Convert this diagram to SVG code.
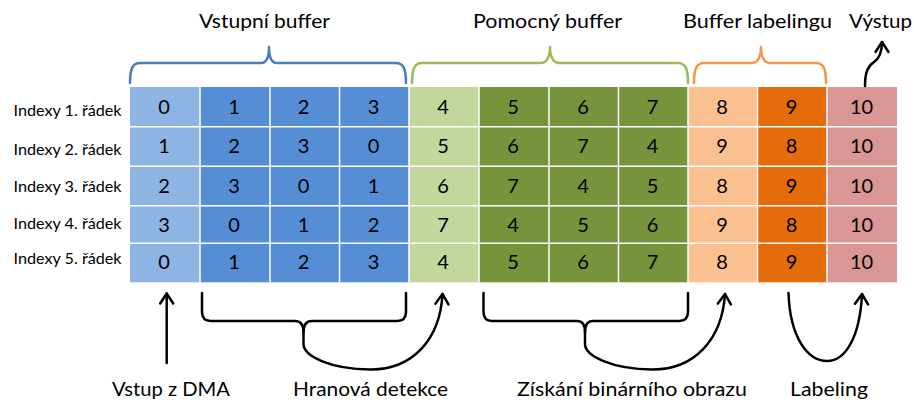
<svg xmlns="http://www.w3.org/2000/svg" width="914" height="403" viewBox="0 0 914 403">
<style>
text{font-family:Lato,"Open Sans","Liberation Sans",sans-serif;fill:#000}
.t{font-size:20px}
.d{font-size:20px;text-anchor:middle}
.r{font-size:16px}
.c{stroke:#fff;stroke-width:1.5}
.lb{fill:#8EB4E3}.mb{fill:#558ED5}.lg{fill:#C3D69B}.dg{fill:#77933C}.lo{fill:#FAC090}.do{fill:#E46C0A}.pk{fill:#D99694}
.br{fill:none;stroke-width:2.5;stroke-linecap:round;stroke-linejoin:round}
.k{fill:none;stroke:#000;stroke-width:2.5;stroke-linecap:round;stroke-linejoin:round}
</style>
<defs>
<marker id="ah" viewBox="-12 -10 14 20" refX="0" refY="0" markerWidth="14" markerHeight="20" markerUnits="userSpaceOnUse" orient="auto">
<path d="M-10,-6.5 L0,0 L-10,6.5" fill="none" stroke="#000" stroke-width="2.5" stroke-linecap="round" stroke-linejoin="round"/>
</marker>
</defs>

<g id="titles">
<text class="t" x="199" y="28" textLength="131" lengthAdjust="spacingAndGlyphs">Vstupní buffer</text>
<text class="t" x="473" y="28" textLength="149" lengthAdjust="spacingAndGlyphs">Pomocný buffer</text>
<text class="t" x="683" y="28" textLength="149" lengthAdjust="spacingAndGlyphs">Buffer labelingu</text>
<text class="t" x="849" y="28" textLength="63" lengthAdjust="spacingAndGlyphs">Výstup</text>
</g>

<g id="braces">
<path class="br" stroke="#4A7EBB" d="M130,83 C130,70 132,63 140,63 L261,63 C266,63 269,58 269,47 C269,58 272,63 277,63 L396,63 C404,63 406,70 406,83"/>
<path class="br" stroke="#9BBB59" d="M412,83 C412,70 414,63 422,63 L541,63 C546,63 550,58 550,47 C550,58 554,63 559,63 L678,63 C686,63 688,70 688,83"/>
<path class="br" stroke="#F79646" d="M694,83 C694,70 696,63 704,63 L752,63 C757,63 761,58 761,47 C761,58 765,63 770,63 L816,63 C824,63 826,70 826,83"/>
</g>

<g id="row-labels" class="r">
<text class="r" x="13.5" y="116" textLength="108" lengthAdjust="spacingAndGlyphs">Indexy 1. řádek</text>
<text class="r" x="13.5" y="155" textLength="108" lengthAdjust="spacingAndGlyphs">Indexy 2. řádek</text>
<text class="r" x="13.5" y="191.5" textLength="108" lengthAdjust="spacingAndGlyphs">Indexy 3. řádek</text>
<text class="r" x="13.5" y="228.5" textLength="108" lengthAdjust="spacingAndGlyphs">Indexy 4. řádek</text>
<text class="r" x="13.5" y="263.5" textLength="108" lengthAdjust="spacingAndGlyphs">Indexy 5. řádek</text>
</g>

<g id="vstupni-buffer">
<rect class="lb" x="130" y="87" width="70" height="195.3"/>
<rect class="mb" x="200" y="87" width="209" height="195.3"/>
</g>
<g id="pomocny-buffer">
<rect class="lg" x="409" y="87" width="70" height="195.3"/>
<rect class="dg" x="479" y="87" width="209" height="195.3"/>
</g>
<g id="buffer-labelingu">
<rect class="lo" x="688" y="87" width="69.5" height="195.3"/>
<rect class="do" x="757.5" y="87" width="69.5" height="195.3"/>
</g>
<g id="vystup">
<rect class="pk" x="827" y="87" width="70" height="195.3"/>
</g>

<g id="grid-lines" class="c">
<line x1="200" y1="87" x2="200" y2="282.3"/>
<line x1="270" y1="87" x2="270" y2="282.3"/>
<line x1="339.5" y1="87" x2="339.5" y2="282.3"/>
<line x1="409" y1="87" x2="409" y2="282.3"/>
<line x1="479" y1="87" x2="479" y2="282.3"/>
<line x1="549" y1="87" x2="549" y2="282.3"/>
<line x1="618.5" y1="87" x2="618.5" y2="282.3"/>
<line x1="688" y1="87" x2="688" y2="282.3"/>
<line x1="757.5" y1="87" x2="757.5" y2="282.3"/>
<line x1="827" y1="87" x2="827" y2="282.3"/>
<line x1="130" y1="126.7" x2="897" y2="126.7"/>
<line x1="130" y1="166.3" x2="897" y2="166.3"/>
<line x1="130" y1="205.7" x2="897" y2="205.7"/>
<line x1="130" y1="243.3" x2="897" y2="243.3"/>
</g>

<g id="cell-values" class="d">
<text class="d" x="164" y="113.5">0</text><text class="d" x="234" y="113.5">1</text><text class="d" x="303.5" y="113.5">2</text><text class="d" x="373.5" y="113.5">3</text><text class="d" x="443" y="113.5">4</text><text class="d" x="513" y="113.5">5</text><text class="d" x="583" y="113.5">6</text><text class="d" x="652.5" y="113.5">7</text><text class="d" x="722" y="113.5">8</text><text class="d" x="791.5" y="113.5">9</text><text class="d" x="861.5" y="113.5">10</text>
<text class="d" x="164" y="153">1</text><text class="d" x="234" y="153">2</text><text class="d" x="303.5" y="153">3</text><text class="d" x="373.5" y="153">0</text><text class="d" x="443" y="153">5</text><text class="d" x="513" y="153">6</text><text class="d" x="583" y="153">7</text><text class="d" x="652.5" y="153">4</text><text class="d" x="722" y="153">9</text><text class="d" x="791.5" y="153">8</text><text class="d" x="861.5" y="153">10</text>
<text class="d" x="164" y="192.5">2</text><text class="d" x="234" y="192.5">3</text><text class="d" x="303.5" y="192.5">0</text><text class="d" x="373.5" y="192.5">1</text><text class="d" x="443" y="192.5">6</text><text class="d" x="513" y="192.5">7</text><text class="d" x="583" y="192.5">4</text><text class="d" x="652.5" y="192.5">5</text><text class="d" x="722" y="192.5">8</text><text class="d" x="791.5" y="192.5">9</text><text class="d" x="861.5" y="192.5">10</text>
<text class="d" x="164" y="232">3</text><text class="d" x="234" y="232">0</text><text class="d" x="303.5" y="232">1</text><text class="d" x="373.5" y="232">2</text><text class="d" x="443" y="232">7</text><text class="d" x="513" y="232">4</text><text class="d" x="583" y="232">5</text><text class="d" x="652.5" y="232">6</text><text class="d" x="722" y="232">9</text><text class="d" x="791.5" y="232">8</text><text class="d" x="861.5" y="232">10</text>
<text class="d" x="164" y="269">0</text><text class="d" x="234" y="269">1</text><text class="d" x="303.5" y="269">2</text><text class="d" x="373.5" y="269">3</text><text class="d" x="443" y="269">4</text><text class="d" x="513" y="269">5</text><text class="d" x="583" y="269">6</text><text class="d" x="652.5" y="269">7</text><text class="d" x="722" y="269">8</text><text class="d" x="791.5" y="269">9</text><text class="d" x="861.5" y="269">10</text>
</g>

<g id="connectors">
<path class="k" marker-end="url(#ah)" d="M865,86 C865,72 868,66 874,62 C880,58 882,52 882,42"/>
<path class="k" marker-end="url(#ah)" d="M166.7,363 L166.7,293.5"/>
<path class="k" marker-end="url(#ah)" d="M202,293 L202,312 C202,318 205,321 211,321 L295,321 C301,321 303.5,325 303.5,332 L303.5,344 C303.5,356 330,369 370,369.5 C412,370 440,340 442.5,294"/>
<path class="k" d="M406,293 L406,312 C406,318 403,321 397,321 L312,321 C306,321 303.5,325 303.5,332"/>
<path class="k" marker-end="url(#ah)" d="M483.5,293 L483.5,312 C483.5,318 486,321 492,321 L577,321 C583,321 585,325 585,332 L585,344 C585,356 612,369 652,369.5 C694,370 722,340 725,294"/>
<path class="k" d="M688,293 L688,312 C688,318 685,321 679,321 L593,321 C587,321 585,325 585,332"/>
<path class="k" marker-end="url(#ah)" d="M788.5,293 C790,338 808,361 827,361 C846,361 860,336 862,294"/>
</g>

<g id="step-labels">
<text class="t" x="112" y="396" textLength="118" lengthAdjust="spacingAndGlyphs">Vstup z DMA</text>
<text class="t" x="293" y="396" textLength="155" lengthAdjust="spacingAndGlyphs">Hranová detekce</text>
<text class="t" x="517" y="396" textLength="230" lengthAdjust="spacingAndGlyphs">Získání binárního obrazu</text>
<text class="t" x="790" y="396" textLength="78" lengthAdjust="spacingAndGlyphs">Labeling</text>
</g>
</svg>
